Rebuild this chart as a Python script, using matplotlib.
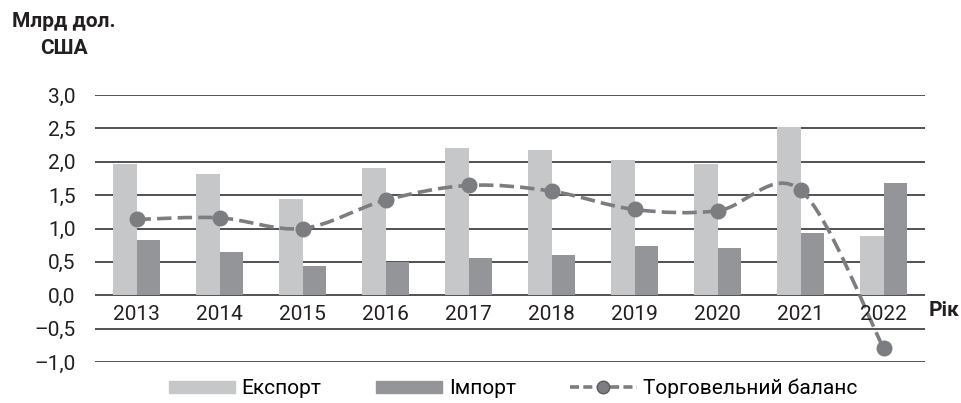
import numpy as np
import matplotlib
matplotlib.use("Agg")
import matplotlib.pyplot as plt
from matplotlib.path import Path
from matplotlib.patches import PathPatch, Patch
from matplotlib.lines import Line2D

plt.rcParams['font.family'] = ['Roboto', 'DejaVu Sans']

years = ["2013", "2014", "2015", "2016", "2017", "2018", "2019", "2020", "2021", "2022"]
export = [1.96, 1.81, 1.44, 1.90, 2.20, 2.17, 2.02, 1.96, 2.52, 0.885]
imports = [0.835, 0.65, 0.44, 0.50, 0.555, 0.61, 0.735, 0.715, 0.93, 1.675]
balance = [1.135, 1.16, 1.00, 1.425, 1.645, 1.56, 1.285, 1.265, 1.575, -0.79]
yticks = [-1.0, -0.5, 0.0, 0.5, 1.0, 1.5, 2.0, 2.5, 3.0]

c_exp = "#c6c7c8"
c_imp = "#949598"
c_bal = "#7c7d80"
c_txt = "#231f20"
fs = 15

fig = plt.figure(figsize=(9.62, 4.03), dpi=100)
ax = fig.add_axes([95/962, 1-362/403, 830/962, 267/403])

x = np.arange(len(years))
w = 0.285
ax.bar(x - w/2, export, w, color=c_exp, zorder=2)
ax.bar(x + w/2, imports, w, color=c_imp, zorder=2)

# smoothed line (Excel-like bezier through the points)
pts = np.column_stack([x, balance]).astype(float)
n = len(pts)
verts = [pts[0]]
codes = [Path.MOVETO]
for i in range(n - 1):
    p0 = pts[i - 1] if i > 0 else pts[i]
    p1 = pts[i]
    p2 = pts[i + 1]
    p3 = pts[i + 2] if i + 2 < n else pts[i + 1]
    verts += [p1 + (p2 - p0) / 6, p2 - (p3 - p1) / 6, p2]
    codes += [Path.CURVE4] * 3
ax.add_patch(PathPatch(Path(verts, codes), fill=False, edgecolor=c_bal, lw=2.6,
                       linestyle=(0, (4, 1.7)), zorder=3))
ax.plot(x, balance, 'o', color=c_bal, markersize=10.5, zorder=4)

for yv in yticks:
    ax.axhline(yv, color="#333333", lw=1.2, zorder=1)

for i, yr in enumerate(years):
    ax.text(i, -0.29, yr, ha='center', va='center', fontsize=fs, color=c_txt, zorder=5)

ax.set_xlim(-0.5, 9.5)
ax.set_ylim(-1.0, 3.0)
ax.set_xticks([])
ax.set_yticks(yticks)
ax.set_yticklabels([f"{v:.1f}".replace(".", ",").replace("-", "–") for v in yticks],
                   fontsize=fs, color=c_txt)
ax.tick_params(axis='y', length=0, pad=14)
for s in ax.spines.values():
    s.set_visible(False)

fig.text(64/962, 1-12/403, "Млрд дол.\nСША", ha='center', va='top', fontsize=fs,
         fontweight='bold', linespacing=1.5, color=c_txt)
fig.text(929/962, 1-311/403, "Рік", ha='left', va='center', fontsize=fs,
         fontweight='bold', color=c_txt)

handles = [Patch(color=c_exp), Patch(color=c_imp),
           Line2D([], [], color=c_bal, lw=2.6, linestyle=(0, (2.5, 1.2)), marker='o',
                  markersize=9, markerfacecolor=c_bal, markeredgecolor="#5a5a5c")]
fig.legend(handles, ["Експорт", "Імпорт", "Торговельний баланс"], loc='lower center',
           bbox_to_anchor=(513/962, 0.012), ncol=3, frameon=False, fontsize=fs,
           handlelength=3.2, handleheight=0.55, columnspacing=2.6, handletextpad=0.3,
           borderaxespad=0, borderpad=0)

fig.savefig("out.png", dpi=100)
